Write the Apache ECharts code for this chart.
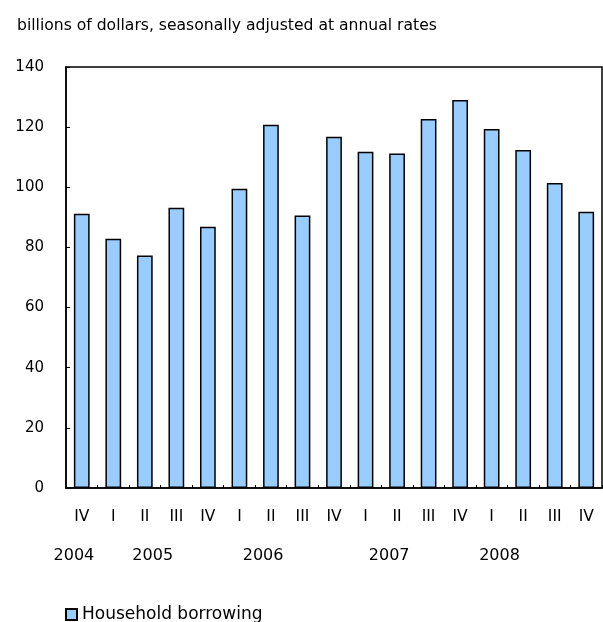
<!DOCTYPE html>
<html><head><meta charset="utf-8">
<script src="https://cdn.jsdelivr.net/npm/echarts@6/dist/echarts.min.js"></script>
<style>html,body{margin:0;padding:0;background:#fff}#c{width:603px;height:622px}</style>
</head><body><div id="c"></div>
<script>
const quarters = ['IV','I','II','III','IV','I','II','III','IV','I','II','III','IV','I','II','III','IV'];
const borrowing = [91.2, 82.9, 77.3, 93.2, 86.9, 99.5, 120.8, 90.6, 116.8, 111.8, 111.2, 122.7, 129.0, 119.4, 112.4, 101.4, 91.9];
// year labels placed on a half-quarter grid (34 slots)
const yearSlots = {0:'2004', 5:'2005', 12:'2006', 20:'2007', 27:'2008'};
const yTicks = {min:0, max:140, interval:20};
const title = 'billions of dollars, seasonally adjusted at annual rates';
const seriesName = 'Household borrowing';

const halfCats = Array.from({length: quarters.length*2}, (_, i) => String(i));
const font = '"DejaVu Sans", Verdana, sans-serif';
const chart = echarts.init(document.getElementById('c'));
chart.setOption({
  animation: false,
  title: {text: title, left: 12, top: 13, textStyle: {fontFamily: font, fontSize: 15.6, fontWeight: 'normal', color: '#000'}},
  grid: {left: 66, right: 1, top: 67, bottom: 134, show: true, borderColor: '#000', borderWidth: 1.5, containLabel: false},
  legend: {left: 60, top: 601, itemWidth: 11, itemHeight: 11, itemGap: 5,
    textStyle: {fontFamily: font, fontSize: 17, color: '#000'},
    data: [{name: seriesName, icon: 'rect'}]},
  xAxis: [{
    type: 'category', data: quarters, position: 'bottom',
    axisLine: {lineStyle: {color: '#000', width: 1.5}},
    axisTick: {show: true, inside: true, length: 3, alignWithLabel: false, lineStyle: {color: '#000'}},
    axisLabel: {fontFamily: font, fontSize: 15.5, color: '#000', margin: 21}
  }, {
    type: 'category', data: halfCats, position: 'bottom', offset: 0,
    axisLine: {show: false}, axisTick: {show: false},
    axisLabel: {interval: 0, fontFamily: font, fontSize: 16, color: '#000', margin: 60,
      formatter: (v, i) => yearSlots[i] || ''}
  }],
  yAxis: {
    type: 'value', min: yTicks.min, max: yTicks.max, interval: yTicks.interval,
    axisLine: {show: true, lineStyle: {color: '#000', width: 1.5}},
    axisTick: {show: true, inside: true, length: 4, lineStyle: {color: '#000'}},
    splitLine: {show: false},
    axisLabel: {fontFamily: font, fontSize: 15, color: '#000', margin: 22}
  },
  series: [{
    name: seriesName, type: 'bar', data: borrowing, xAxisIndex: 0,
    barWidth: '50%',
    itemStyle: {color: '#99CCFF', borderColor: '#000', borderWidth: 1.5}
  }]
});
</script></body></html>
